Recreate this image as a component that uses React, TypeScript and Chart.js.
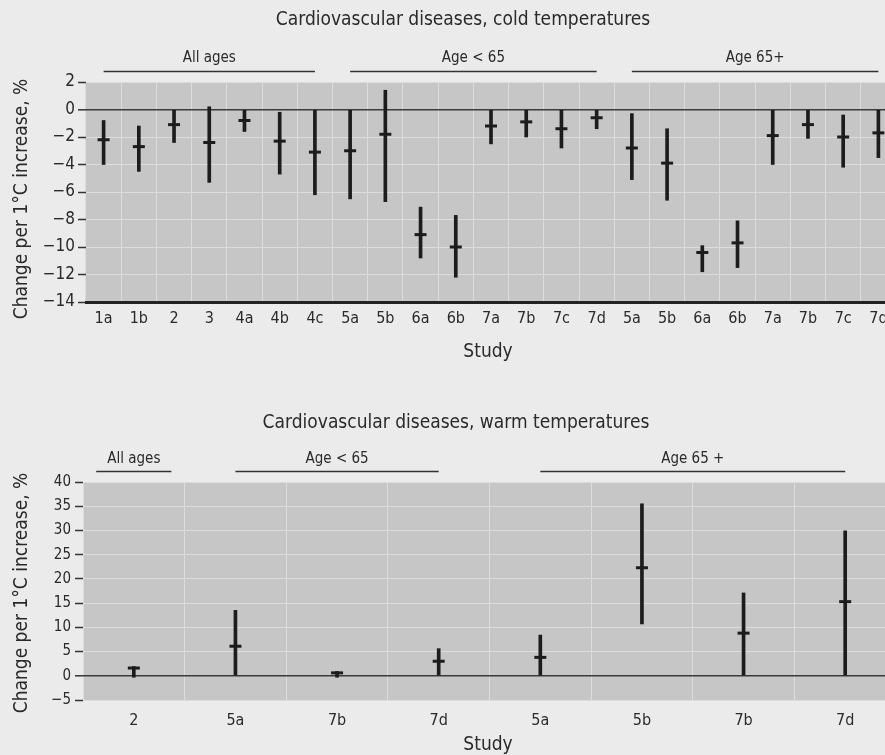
import React, { useEffect, useRef } from "react";
import { Chart, registerables } from "chart.js";

Chart.register(...registerables);

const FONT = "'DejaVu Sans Condensed', 'Liberation Sans Narrow', 'Arial Narrow', sans-serif";
const TEXT = "#2a2a2a";
const MARK = "#1c1c1c";

// ---- Cold temperatures ----
const coldStudies = ["1a", "1b", "2", "3", "4a", "4b", "4c", "5a", "5b", "6a", "6b", "7a", "7b", "7c", "7d", "5a", "5b", "6a", "6b", "7a", "7b", "7c", "7d"];
const coldEstimate = [-2.2, -2.7, -1.1, -2.4, -0.8, -2.3, -3.1, -3.0, -1.8, -9.1, -10.0, -1.2, -0.9, -1.4, -0.6, -2.8, -3.9, -10.4, -9.7, -1.9, -1.1, -2.0, -1.7];
const coldLower = [-4.0, -4.5, -2.4, -5.3, -1.6, -4.7, -6.2, -6.5, -6.7, -10.8, -12.2, -2.5, -2.0, -2.8, -1.4, -5.1, -6.6, -11.8, -11.5, -4.0, -2.1, -4.2, -3.5];
const coldUpper = [-0.8, -1.2, 0, 0.2, 0, -0.2, 0, 0, 1.4, -7.1, -7.7, 0, 0, 0, 0, -0.3, -1.4, -9.9, -8.1, 0, 0, -0.4, 0];
const coldGroupLabels = ["All ages", "Age < 65", "Age 65+"];
const coldGroupFrom = [0, 7, 15];
const coldGroupTo = [6, 14, 22];

// ---- Warm temperatures ----
const warmStudies = ["2", "5a", "7b", "7d", "5a", "5b", "7b", "7d"];
const warmEstimate = [1.6, 6.1, 0.6, 3.0, 3.8, 22.3, 8.8, 15.3];
const warmLower = [-0.3, 0, -0.3, 0, 0, 10.7, 0, 0];
const warmUpper = [1.9, 13.5, 0.9, 5.6, 8.4, 35.5, 17.1, 29.9];
const warmGroupLabels = ["All ages", "Age < 65", "Age 65 +"];
const warmGroupFrom = [0, 1, 4];
const warmGroupTo = [0, 3, 7];

const yTitle = "Change per 1°C increase, %";

type Params = {
  labels: string[];
  est: number[];
  lo: number[];
  hi: number[];
  min: number;
  max: number;
  step: number;
  gLabels: string[];
  gFrom: number[];
  gTo: number[];
  title: string;
  titleX: number;
  titleY: number;
  studyX: number;
  studyY: number;
  yTitleX: number;
  yTitleY: number;
  groupTextY: number;
  groupLineY: number;
  padTop: number;
  yWidth: number;
  xHeight: number;
  bottomBorder: boolean;
  tickPad: number;
  tickSize: number;
  xLabelPad: number;
};

function buildConfig(p: Params): any {
  const annot = {
    id: "annot",
    beforeDraw(chart: any) {
      const { ctx, chartArea: a } = chart;
      ctx.save();
      ctx.fillStyle = "#c6c6c6";
      ctx.fillRect(a.left, a.top, a.right - a.left, a.bottom - a.top);
      ctx.restore();
    },
    afterDraw(chart: any) {
      const { ctx } = chart;
      const x = chart.scales.x;
      const cat = (x.right - x.left) / p.labels.length;
      ctx.save();
      ctx.fillStyle = TEXT;
      ctx.textAlign = "center";
      ctx.textBaseline = "middle";
      ctx.font = `19px ${FONT}`;
      ctx.fillText(p.title, p.titleX, p.titleY);
      ctx.fillText("Study", p.studyX, p.studyY);
      ctx.save();
      ctx.translate(p.yTitleX, p.yTitleY);
      ctx.rotate(-Math.PI / 2);
      ctx.fillText(yTitle, 0, 0);
      ctx.restore();
      ctx.font = `15px ${FONT}`;
      for (let i = 0; i < p.gLabels.length; i++) {
        const a = x.getPixelForValue(p.gFrom[i]);
        const b = x.getPixelForValue(p.gTo[i]);
        const half = p.gFrom[i] === p.gTo[i] ? cat * 0.37 : 0;
        const l = a - half;
        const r = b + half;
        ctx.fillText(p.gLabels[i], (l + r) / 2, p.groupTextY);
        ctx.strokeStyle = "#333";
        ctx.lineWidth = 1.5;
        ctx.beginPath();
        ctx.moveTo(l, p.groupLineY);
        ctx.lineTo(r, p.groupLineY);
        ctx.stroke();
      }
      ctx.restore();
    },
  };

  return {
    type: "bar",
    data: {
      labels: p.labels,
      datasets: [
        {
          type: "line",
          data: p.est,
          showLine: false,
          pointStyle: "line",
          pointRadius: 6,
          pointHoverRadius: 6,
          pointBorderWidth: 3,
          pointBorderColor: MARK,
          borderColor: MARK,
          order: 0,
        },
        {
          type: "bar",
          data: p.lo.map((v, i) => [v, p.hi[i]]),
          backgroundColor: MARK,
          borderWidth: 0,
          borderSkipped: false,
          barThickness: 3,
          order: 1,
        },
      ],
    },
    options: {
      animation: false,
      responsive: false,
      events: [],
      layout: { padding: { top: p.padTop, right: 8, left: 0, bottom: 0 } },
      plugins: { legend: { display: false }, tooltip: { enabled: false }, title: { display: false } },
      scales: {
        x: {
          type: "category",
          offset: true,
          grid: { offset: true, color: "#dcdcdc", lineWidth: 1, drawTicks: false },
          border: p.bottomBorder ? { display: true, color: "#222", width: 3 } : { display: false },
          ticks: { color: TEXT, font: { family: FONT, size: 16 }, padding: p.xLabelPad, autoSkip: false, maxRotation: 0 },
          afterFit(s: any) {
            s.height = p.xHeight;
          },
        },
        y: {
          min: p.min,
          max: p.max,
          border: { display: false },
          grid: {
            color: (c: any) => (c.tick && c.tick.value === 0 ? "#3a3a3a" : "#dcdcdc"),
            lineWidth: (c: any) => (c.tick && c.tick.value === 0 ? 1.6 : 1),
            tickColor: "#333",
            tickWidth: 1.5,
            tickLength: 8,
            drawTicks: true,
          },
          ticks: {
            stepSize: p.step,
            autoSkip: false,
            color: TEXT,
            font: { family: FONT, size: p.tickSize },
            padding: p.tickPad,
            callback: (v: any) => String(v).replace("-", "\u2212"),
          },
          title: { display: false },
          afterFit(s: any) {
            s.width = p.yWidth;
          },
        },
      },
    },
    plugins: [annot],
  };
}

function ErrorChart({ p, top, width, height }: { p: Params; top: number; width: number; height: number }) {
  const ref = useRef<HTMLCanvasElement | null>(null);
  useEffect(() => {
    if (!ref.current) return;
    const chart = new Chart(ref.current, buildConfig(p));
    return () => chart.destroy();
  }, []);
  return (
    <canvas
      ref={ref}
      width={width}
      height={height}
      style={{ position: "absolute", left: 0, top, width, height, display: "block" }}
    />
  );
}

const coldParams: Params = {
  labels: coldStudies,
  est: coldEstimate,
  lo: coldLower,
  hi: coldUpper,
  min: -14,
  max: 2,
  step: 2,
  gLabels: coldGroupLabels,
  gFrom: coldGroupFrom,
  gTo: coldGroupTo,
  title: "Cardiovascular diseases, cold temperatures",
  titleX: 463,
  titleY: 20,
  studyX: 488,
  studyY: 352,
  yTitleX: 22,
  yTitleY: 199,
  groupTextY: 58,
  groupLineY: 71.5,
  padTop: 82,
  yWidth: 86,
  xHeight: 68,
  bottomBorder: true,
  tickPad: 3,
  tickSize: 17,
  xLabelPad: 7,
};

const warmParams: Params = {
  labels: warmStudies,
  est: warmEstimate,
  lo: warmLower,
  hi: warmUpper,
  min: -5,
  max: 40,
  step: 5,
  gLabels: warmGroupLabels,
  gFrom: warmGroupFrom,
  gTo: warmGroupTo,
  title: "Cardiovascular diseases, warm temperatures",
  titleX: 456,
  titleY: 53,
  studyX: 488,
  studyY: 375,
  yTitleX: 22,
  yTitleY: 223,
  groupTextY: 89,
  groupLineY: 101.5,
  padTop: 112,
  yWidth: 83,
  xHeight: 55,
  bottomBorder: false,
  tickPad: 4,
  tickSize: 15,
  xLabelPad: 11,
};

export default function App() {
  return (
    <div
      style={{
        position: "fixed",
        left: 0,
        top: 0,
        width: 885,
        height: 755,
        overflow: "hidden",
        background: "#ebebeb",
      }}
    >
      <ErrorChart p={coldParams} top={0} width={905} height={370} />
      <ErrorChart p={warmParams} top={370} width={905} height={385} />
    </div>
  );
}
